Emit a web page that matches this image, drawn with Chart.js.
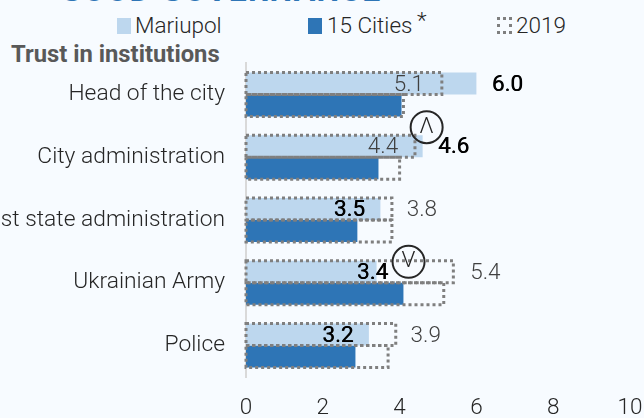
<!DOCTYPE html>
<html lang="en">
<head>
    <meta charset="UTF-8">
    <title>Good Governance - Trust in institutions</title>
    <style>
        body {
            margin: 0;
            width: 644px;
            height: 418px;
            overflow: hidden;
            position: relative;
            background-color: #f7fbff;
            font-family: Roboto, sans-serif;
            font-weight: 300;
            color: #262626;
        }

        canvas { position: absolute; left: 0; top: 0; }

        .txt { position: absolute; white-space: nowrap; line-height: 26px; font-size: 22.5px; }
        .swatch { position: absolute; width: 14px; height: 16px; }

        #title { left: 60px; top: -26px; font-size: 32px; line-height: 32px; font-weight: 700; color: #2e75b6; letter-spacing: 1.2px; }
        #heading { left: 11px; top: 41px; font-size: 23.8px; font-weight: 700; color: #595959; }
    </style>
    <script src="https://cdn.jsdelivr.net/npm/chart.js"></script>
</head>
<body>

<div class="txt" id="title">GOOD GOVERNANCE</div>
<div class="swatch" style="left:117px;top:18px;background:#bdd7ee"></div>
<div class="txt" style="left:135px;top:12px">Mariupol</div>
<div class="swatch" style="left:308px;top:18px;background:#2e75b6"></div>
<div class="txt" style="left:327px;top:12px">15 Cities</div>
<div class="txt" style="left:417px;top:7px">*</div>
<div class="swatch" style="left:497px;top:17px;width:9px;height:11px;border:3px dotted #7f7f7f"></div>
<div class="txt" style="left:516px;top:12px">2019</div>
<div class="txt" id="heading">Trust in institutions</div>

<canvas id="trustChart" width="644" height="418"></canvas>

<script>
    const categories = ['Head of the city', 'City administration', 'Oblast state administration', 'Ukrainian Army', 'Police'];
    const mariupol = [6.0, 4.6, 3.5, 3.4, 3.2];
    const cities = [4.05, 3.45, 2.9, 4.1, 2.85];
    const mariupol2019 = [5.1, 4.4, 3.8, 5.4, 3.9];
    const cities2019 = [4.1, 4.0, 3.8, 5.15, 3.7];
    const xTicks = [0, 2, 4, 6, 8, 10];

    // label placement: px from bar end to label centre
    const mariupolShift = [31, 31, -31, -4, -31];
    const shift2019 = [-33, -32, 30, 32, 30];
    // significant changes: category index, direction, px from the bar end
    const changeMarks = [
        { index: 1, text: 'Λ', dx: 4, dy: -19 },
        { index: 3, text: 'V', dx: 32, dy: -10 }
    ];

    const outlinePlugin = {
        id: 'outlines',
        afterDatasetsDraw(chart) {
            const ctx = chart.ctx;
            ctx.save();

            // dotted 2019 outlines
            ctx.strokeStyle = '#7f7f7f';
            ctx.lineWidth = 3;
            ctx.setLineDash([3, 3]);
            [2, 3].forEach(ds => {
                chart.getDatasetMeta(ds).data.forEach(bar => {
                    ctx.strokeRect(bar.base, bar.y - bar.height / 2, bar.x - bar.base, bar.height);
                });
            });
            ctx.setLineDash([]);

            // value labels
            ctx.textAlign = 'center';
            ctx.textBaseline = 'middle';
            ctx.font = '300 22.5px Roboto';
            ctx.fillStyle = '#404040';
            chart.getDatasetMeta(2).data.forEach((bar, i) => {
                ctx.fillText(mariupol2019[i].toFixed(1), bar.x + shift2019[i], bar.y + 1.5);
            });
            ctx.font = '400 22.5px Roboto';
            ctx.fillStyle = '#000';
            chart.getDatasetMeta(0).data.forEach((bar, i) => {
                ctx.fillText(mariupol[i].toFixed(1), bar.x + mariupolShift[i], bar.y + 1.5);
                ctx.fillText(mariupol[i].toFixed(1), bar.x + mariupolShift[i] + 0.4, bar.y + 1.5);
            });

            // circled arrows
            ctx.strokeStyle = '#262626';
            ctx.lineWidth = 2;
            ctx.font = '300 22.5px Roboto';
            ctx.fillStyle = '#262626';
            changeMarks.forEach(m => {
                const bar = chart.getDatasetMeta(0).data[m.index];
                ctx.beginPath();
                ctx.arc(bar.x + m.dx, bar.y + m.dy, 16, 0, Math.PI * 2);
                ctx.stroke();
                ctx.fillText(m.text, bar.x + m.dx, bar.y + m.dy);
            });
            ctx.restore();
        }
    };

    const trustChart = new Chart(document.getElementById('trustChart').getContext('2d'), {
        type: 'bar',
        data: {
            labels: categories,
            datasets: [
                { label: 'Mariupol', data: mariupol, backgroundColor: '#bdd7ee', stack: 'a' },
                { label: '15 Cities', data: cities, backgroundColor: '#2e75b6', stack: 'b' },
                { label: 'Mariupol 2019', data: mariupol2019, backgroundColor: 'transparent', stack: 'a' },
                { label: '15 Cities 2019', data: cities2019, backgroundColor: 'transparent', stack: 'b' }
            ]
        },
        options: {
            indexAxis: 'y',
            responsive: false,
            animation: false,
            categoryPercentage: 0.7,
            barPercentage: 1,
            layout: { padding: { top: 63 } },
            plugins: { legend: { display: false }, tooltip: { enabled: false } },
            scales: {
                x: {
                    stacked: false,
                    min: 0,
                    max: 10,
                    afterBuildTicks(scale) { scale.ticks = xTicks.map(v => ({ value: v })); },
                    // tick padding would otherwise eat into the plot width
                    afterFit(scale) { scale.height = 41; scale.paddingRight = 14; },
                    grid: { display: false, drawTicks: false },
                    border: { display: false },
                    ticks: { color: '#262626', font: { family: 'Roboto', size: 22.5, weight: '300' }, padding: 18, maxRotation: 0 }
                },
                y: {
                    afterFit(scale) { scale.width = 246; },
                    grid: { display: false, drawTicks: false },
                    border: { display: true, color: '#d9d9d9', width: 2 },
                    ticks: { color: '#262626', font: { family: 'Roboto', size: 22.8, weight: '300' }, padding: 21, labelOffset: 0 }
                }
            }
        },
        plugins: [outlinePlugin]
    });
</script>

</body>
</html>
